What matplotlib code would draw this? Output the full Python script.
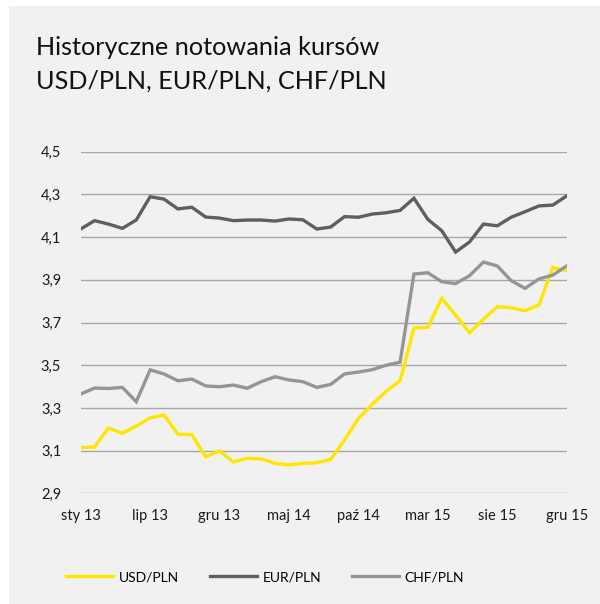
import matplotlib
matplotlib.use("Agg")
import matplotlib.pyplot as plt
from matplotlib.patches import Rectangle

# ---- data ----
x_labels = ["sty 13", "lip 13", "gru 13", "maj 14", "paź 14", "mar 15", "sie 15", "gru 15"]
label_positions = [0, 5, 10, 15, 20, 25, 30, 35]

usd = [3.114, 3.117, 3.206, 3.181, 3.215, 3.253, 3.267, 3.176, 3.175, 3.071,
       3.098, 3.047, 3.064, 3.061, 3.040, 3.033, 3.040, 3.043, 3.059, 3.150,
       3.251, 3.317, 3.378, 3.427, 3.674, 3.678, 3.813, 3.735, 3.652, 3.715,
       3.774, 3.769, 3.755, 3.782, 3.958, 3.943]
eur = [4.138, 4.177, 4.161, 4.141, 4.180, 4.289, 4.278, 4.232, 4.240, 4.194,
       4.189, 4.177, 4.180, 4.180, 4.175, 4.185, 4.181, 4.138, 4.147, 4.196,
       4.193, 4.208, 4.214, 4.225, 4.282, 4.183, 4.130, 4.030, 4.077, 4.161,
       4.153, 4.193, 4.219, 4.246, 4.250, 4.293]
chf = [3.365, 3.393, 3.391, 3.396, 3.329, 3.478, 3.459, 3.427, 3.435, 3.403,
       3.399, 3.407, 3.392, 3.423, 3.446, 3.431, 3.423, 3.396, 3.410, 3.459,
       3.468, 3.479, 3.500, 3.514, 3.927, 3.933, 3.891, 3.882, 3.919, 3.983,
       3.965, 3.896, 3.860, 3.904, 3.922, 3.965]
y_ticks = [2.9, 3.1, 3.3, 3.5, 3.7, 3.9, 4.1, 4.3, 4.5]
series_names = ["USD/PLN", "EUR/PLN", "CHF/PLN"]

plt.rcParams['font.family'] = ['Lato', 'DejaVu Sans']

W, H = 600, 604
fig = plt.figure(figsize=(W / 100, H / 100), dpi=100, facecolor="white")
bg = "#f1f1f1"
fig.patches.append(Rectangle((9 / W, 0), 1 - 9 / W, 1 - 6 / H, transform=fig.transFigure,
                             facecolor=bg, edgecolor="none", zorder=-5))

ax = fig.add_axes([80.7 / W, 1 - 493.3 / H, (566.7 - 80.7) / W, (493.3 - 151.7) / H])
ax.set_zorder(2)
ax.set_facecolor(bg)
xs = list(range(len(usd)))
colors = ["#ffe600", "#5f5f5f", "#959595"]
for vals, name, c in zip([usd, eur, chf], series_names, colors):
    ax.plot(xs, vals, color=c, lw=2.4, label=name, solid_joinstyle="miter", zorder=3)

ax.set_xlim(0, len(usd) - 1)
ax.set_ylim(2.9, 4.5)
ax.set_yticks(y_ticks)
ax.set_yticklabels([f"{v:.1f}".replace(".", ",") for v in y_ticks])
ax.set_xticks(label_positions)
ax.set_xticklabels(x_labels)
ax.grid(axis="y", color="#a6a6a6", lw=1.0, zorder=1)
ax.set_axisbelow(True)
for s in ax.spines.values():
    s.set_visible(False)
ax.tick_params(length=0, labelsize=10.5, colors="#1a1a1a")
ax.tick_params(axis="y", pad=14)
ax.tick_params(axis="x", pad=11)

fig.text(36 / W, 1 - 55 / H, "Historyczne notowania kursów", fontsize=18.2, color="#111111",
         ha="left", va="baseline")
fig.text(36 / W, 1 - 89 / H, "USD/PLN, EUR/PLN, CHF/PLN", fontsize=18.2, color="#111111",
         ha="left", va="baseline")

leg = fig.legend(loc="center", bbox_to_anchor=((67 + 463) / 2 / W, 1 - 577 / H), ncol=3,
                 frameon=False, fontsize=10, handlelength=3.4, handletextpad=0.4,
                 columnspacing=2.2)

fig.savefig("out.png", dpi=100, facecolor="white")
